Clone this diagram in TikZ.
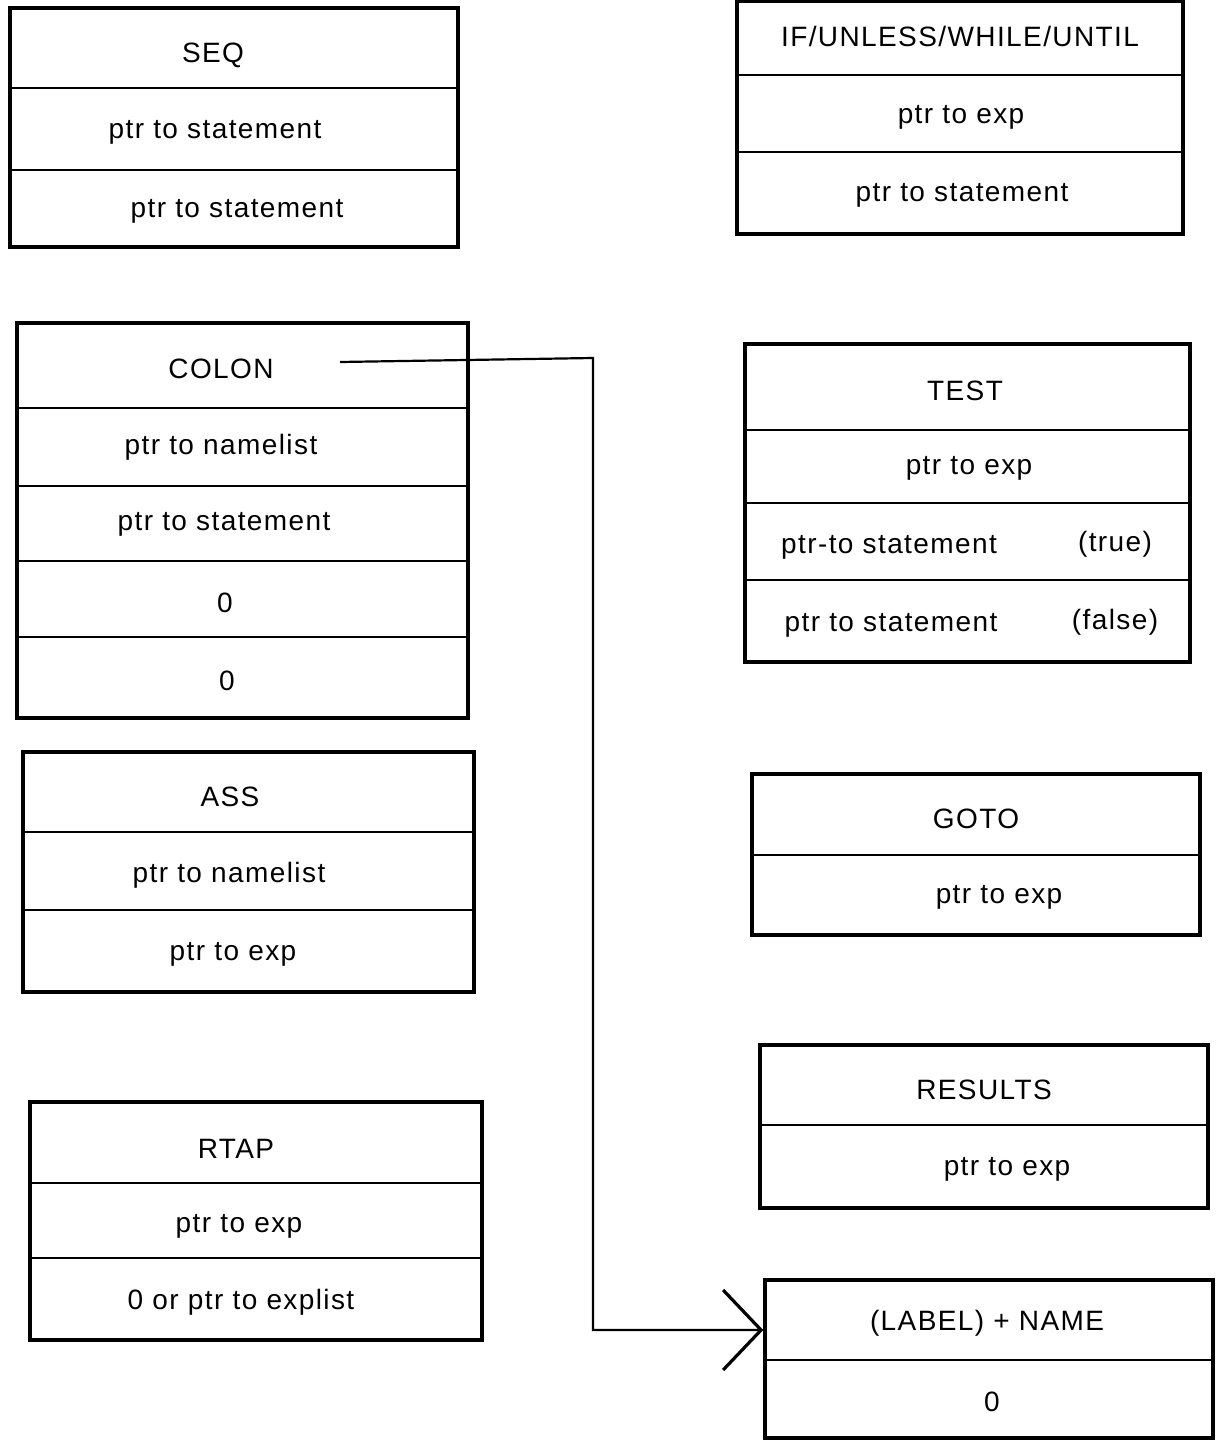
\documentclass[tikz,border=0pt]{standalone}
\usepackage{fontspec}
\setmainfont[LetterSpace=5]{Liberation Sans}
\usetikzlibrary{fit,arrows.meta}
\begin{document}
\begin{tikzpicture}[x=0.5pt,y=-0.5pt,
  recbox/.style={draw, line width=1.7pt, inner sep=0pt, fit=#1},
  divline/.style={line width=1.1pt},
  lbl/.style={font=\fontsize{14}{16}\selectfont, inner sep=0pt, anchor=center},
  conn/.style={line width=1.1pt},
  vhead/.style={-{Straight Barb[length=19pt,width=40pt,line width=1.6pt]}}
]
\useasboundingbox (0,0) rectangle (1223,1443);

% SEQ
\coordinate (seqa) at (10,8); \coordinate (seqb) at (458,247);
\node[recbox={(seqa)(seqb)}] (seq) {};
\draw[divline] (10,88) -- (458,88) (10,170) -- (458,170);
\node[lbl] (seq1) at (213,55) {SEQ};
\node[lbl] (seq2) at (215,132) {ptr to statement};
\node[lbl] (seq3) at (237,211) {ptr to statement};

% IF
\coordinate (ifa) at (737,1); \coordinate (ifb) at (1183,234);
\node[recbox={(ifa)(ifb)}] (ifbox) {};
\draw[divline] (737,75) -- (1183,75) (737,152) -- (1183,152);
\node[lbl] (if1) at (960,37) {IF/UNLESS/WHILE/UNTIL};
\node[lbl] (if2) at (961,117) {ptr to exp};
\node[lbl] (if3) at (962,195) {ptr to statement};

% COLON
\coordinate (cola) at (17,323); \coordinate (colb) at (468,718);
\node[recbox={(cola)(colb)}] (colon) {};
\draw[divline] (17,408) -- (468,408) (17,486) -- (468,486)
               (17,561) -- (468,561) (17,637) -- (468,637);
\node[lbl] (col1) at (221,369) {COLON};
\node[lbl] (col2) at (221,447) {ptr to namelist};
\node[lbl] (col3) at (224,524) {ptr to statement};
\node[lbl] (col4) at (225,603) {0};
\node[lbl] (col5) at (227,681) {0};

% TEST
\coordinate (tsta) at (745,344); \coordinate (tstb) at (1190,662);
\node[recbox={(tsta)(tstb)}] (test) {};
\draw[divline] (745,430) -- (1190,430) (745,503) -- (1190,503) (745,580) -- (1190,580);
\node[lbl] (tst1) at (965,391) {TEST};
\node[lbl] (tst2) at (969,468) {ptr to exp};
\node[lbl] (tst3) at (889,547) {ptr-to statement};
\node[lbl] (tst3b) at (1115,544) {(true)};
\node[lbl] (tst4) at (891,625) {ptr to statement};
\node[lbl] (tst4b) at (1115,622) {(false)};

% ASS
\coordinate (assa) at (23,752); \coordinate (assb) at (474,992);
\node[recbox={(assa)(assb)}] (ass) {};
\draw[divline] (23,832) -- (474,832) (23,910) -- (474,910);
\node[lbl] (ass1) at (230,797) {ASS};
\node[lbl] (ass2) at (229,875) {ptr to namelist};
\node[lbl] (ass3) at (233,954) {ptr to exp};

% GOTO
\coordinate (gota) at (752,774); \coordinate (gotb) at (1200,935);
\node[recbox={(gota)(gotb)}] (goto) {};
\draw[divline] (752,855) -- (1200,855);
\node[lbl] (got1) at (976,819) {GOTO};
\node[lbl] (got2) at (999,897) {ptr to exp};

% RTAP
\coordinate (rtpa) at (30,1102); \coordinate (rtpb) at (482,1340);
\node[recbox={(rtpa)(rtpb)}] (rtap) {};
\draw[divline] (30,1183) -- (482,1183) (30,1258) -- (482,1258);
\node[lbl] (rtp1) at (236,1149) {RTAP};
\node[lbl] (rtp2) at (239,1226) {ptr to exp};
\node[lbl] (rtp3) at (241,1302) {0 or ptr to explist};

% RESULTS
\coordinate (resa) at (760,1045); \coordinate (resb) at (1208,1208);
\node[recbox={(resa)(resb)}] (results) {};
\draw[divline] (760,1125) -- (1208,1125);
\node[lbl] (res1) at (984,1090) {RESULTS};
\node[lbl] (res2) at (1007,1169) {ptr to exp};

% LABEL + NAME
\coordinate (laba) at (765,1280); \coordinate (labb) at (1213,1438);
\node[recbox={(laba)(labb)}] (label) {};
\draw[divline] (765,1360) -- (1213,1360);
\node[lbl] (lab1) at (987,1323) {(LABEL) + NAME};
\node[lbl] (lab2) at (992,1402) {0};

% connector
\coordinate (cstart) at (340,362);
\coordinate (cturn) at (593,358);
\draw[conn,vhead] (cstart) -- (cturn) |- ([yshift=14.5pt]label.west);
\end{tikzpicture}
\end{document}
